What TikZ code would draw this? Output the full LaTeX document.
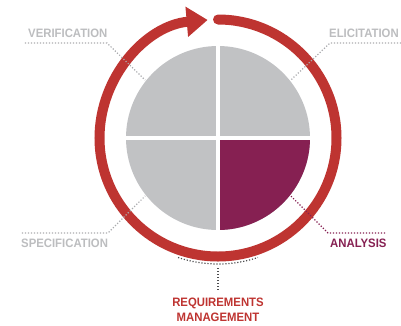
\documentclass[tikz,border=0pt]{standalone}
\usepackage{fontspec}
\setmainfont{Liberation Sans}[FakeStretch=0.93]
\usetikzlibrary{arrows.meta}
\definecolor{ringred}{RGB}{190,52,49}
\definecolor{piegray}{RGB}{193,194,196}
\definecolor{labelgray}{RGB}{188,189,191}
\definecolor{dotgray}{RGB}{170,171,174}
\definecolor{plum}{RGB}{134,32,82}
\definecolor{darkdots}{RGB}{77,77,79}
\begin{document}
\begin{tikzpicture}[x=1pt,y=1pt,
    phase/.style={font=\fontsize{12.2}{14}\selectfont\bfseries, text=labelgray, inner sep=0pt},
    leader/.style={draw=dotgray, line width=1.2pt, dash pattern=on 1.2pt off 1.8pt},
    ring/.style={draw=ringred, line width=10pt, line cap=round}]
  \useasboundingbox (-218,-187) rectangle (183,138);
  \fill[piegray] (0,0) circle[radius=92];
  \fill[plum] (0,0) -- (0:92) arc[start angle=0, end angle=-90, radius=92] -- cycle;
  \draw[white, line width=4pt] (-93,0) -- (93,0) (0,-93) -- (0,93);
  \draw[ring, -{Triangle[width=29pt,length=21pt]}]
    (90:118.5) arc[start angle=90, end angle=-265, radius=118.5];
  \draw
    (-190,105) node[phase, anchor=west] (verification){VERIFICATION}
    (111,105) node[phase, anchor=west] (elicitation){ELICITATION}
    (-197,-105) node[phase, anchor=west] (specification){SPECIFICATION}
    (112,-105) node[phase, anchor=west, text=plum] (analysis){ANALYSIS}
    (0,-172) node[phase, text=ringred, align=center, font=\fontsize{12.2}{14.5}\selectfont\bfseries] (management){REQUIREMENTS\\MANAGEMENT};
  \coordinate (v0) at (-193,95);
  \coordinate (v1) at (-111,95);
  \coordinate (v2) at (141.5:93);
  \coordinate (e0) at (183,95);
  \coordinate (e1) at (112,95);
  \coordinate (e2) at (38.5:93);
  \coordinate (s0) at (-196,-95);
  \coordinate (s1) at (-110,-95);
  \coordinate (s2) at (218.5:93);
  \coordinate (a0) at (167,-95);
  \coordinate (a1) at (110,-95);
  \coordinate (a2) at (321.5:93);
  \coordinate (m0) at (0,-130);
  \begin{scope}[leader]
    \draw (v0) to (v1) to (v2);
    \draw (e0) to (e1) to (e2);
    \draw (s0) to (s1) to (s2);
    \draw[draw=plum] (a0) to (a1) to (a2);
    \draw[draw=darkdots] (251.5:126) arc[start angle=251.5, end angle=288.5, radius=126];
    \draw[draw=darkdots, shorten >=9pt] (m0) to (management.north);
  \end{scope}
\end{tikzpicture}
\end{document}
